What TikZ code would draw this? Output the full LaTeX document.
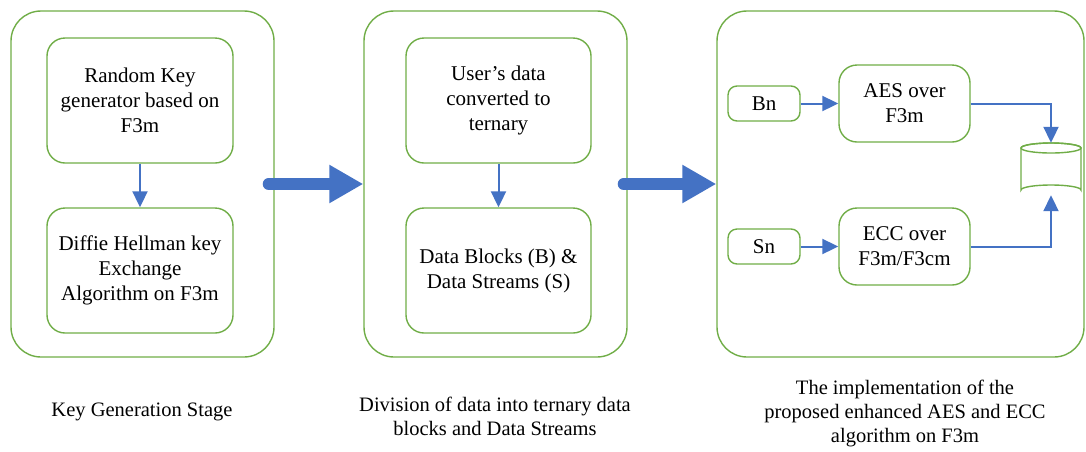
\documentclass[tikz,border=0pt]{standalone}
\usepackage{fontspec}
\setmainfont{Liberation Serif}
\usetikzlibrary{arrows.meta,positioning}
\definecolor{gr}{HTML}{70AD47}
\definecolor{bl}{HTML}{4472C4}
\tikzset{
  outer/.style={draw=gr, line width=1.4pt, rounded corners=30pt, minimum width=#1},
  inbox/.style={draw=gr, line width=1.4pt, rounded corners=18pt, align=center, font=\fontsize{21}{25}\selectfont, inner sep=0pt},
  smallbox/.style={draw=gr, line width=1.4pt, rounded corners=9pt, font=\fontsize{21}{25}\selectfont},
  thinarr/.style={draw=bl, line width=2pt, -{Triangle[length=16pt,width=15pt]}},
  bigarr/.style={draw=bl, line width=12pt, line cap=round, -{Triangle[length=34pt,width=36pt]}},
  captxt/.style={align=center, font=\fontsize{20.5}{24}\selectfont}
}
\begin{document}
\begin{tikzpicture}[x=1pt,y=-1pt]
\useasboundingbox (0,0) rectangle (1086,451);
% outer boxes
\node[outer=263pt, minimum height=346pt] (s1) at (142.5,184) {};
\node[outer=263pt, minimum height=346pt] (s2) at (495.5,184) {};
\node[outer=367pt, minimum height=346pt] (s3) at (900.5,184) {};
% stage 1
\node[inbox, minimum width=186pt, minimum height=125pt] (rk) at (140,100.5) {Random Key\\generator based on\\F3m};
\node[inbox, minimum width=186pt, minimum height=125pt] (dh) at (140,270.5) {Diffie Hellman key\\Exchange\\Algorithm on F3m};
\draw[thinarr] (rk) -- (dh);
% stage 2
\node[inbox, minimum width=185pt, minimum height=125pt] (ud) at (498.5,100.5) {User’s data\\converted to\\ternary};
\node[inbox, minimum width=185pt, minimum height=125pt] (db) at (498.5,270.5) {Data Blocks (B) \&\\Data Streams (S)};
\draw[thinarr] (ud) -- (db);
% stage 3
\node[smallbox, minimum width=72pt, minimum height=35pt] (bn) at (764,103.5) {Bn};
\node[smallbox, minimum width=72pt, minimum height=35pt] (sn) at (764,246.5) {Sn};
\node[inbox, minimum width=131pt, minimum height=77pt] (aes) at (904.5,103.5) {AES over\\F3m};
\node[inbox, minimum width=131pt, minimum height=77pt] (ecc) at (904.5,246.5) {ECC over\\F3m/F3cm};
\node[minimum width=60pt, minimum height=52pt, inner sep=0pt] (cyl) at (1051,169) {};
\draw[draw=gr, line width=1.4pt, fill=white]
  (1021,148) -- (1021,190) arc[start angle=180, end angle=360, x radius=30, y radius=5]
  -- (1081,148) arc[start angle=0, end angle=-180, x radius=30, y radius=5] -- cycle;
\draw[draw=gr, line width=1.4pt] (1051,148) ellipse[x radius=30, y radius=5];
\draw[thinarr] (bn) -- (aes);
\draw[thinarr] (sn) -- (ecc);
\draw[thinarr] (aes.east) -| (cyl.north);
\draw[thinarr] (ecc.east) -| (cyl.south);
% thick arrows
\draw[bigarr] ([xshift=-6pt]s1.east) -- (s2.west);
\draw[bigarr] ([xshift=-4pt]s2.east) -- (s3.west);
% captions
\node[captxt] (c1) at (142,412) {Key Generation Stage};
\node[captxt] (c2) at (495,416) {Division of data into ternary data\\blocks and Data Streams};
\node[captxt] (c3) at (905,413) {The implementation of the\\proposed enhanced AES and ECC\\algorithm on F3m};
\end{tikzpicture}
\end{document}
